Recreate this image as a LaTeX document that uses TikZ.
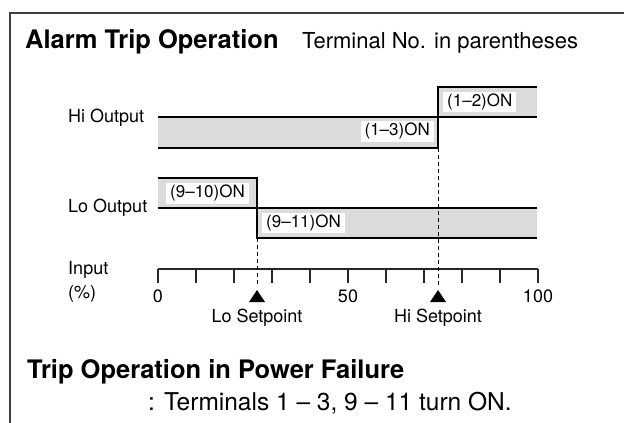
\documentclass[tikz,border=0pt]{standalone}
\usepackage{fontspec}
\setmainfont{TeX Gyre Heros}

\begin{document}
\begin{tikzpicture}[x=1pt,y=-1pt]
% estilos de linea y relleno
\tikzstyle{marco} = [black!75,line width=1.3pt]
\tikzstyle{banda} = [line width=1.2pt,black]
\tikzstyle{relleno} = [fill=black!14]
\tikzstyle{eje} = [line width=1.1pt,black!85]
\tikzstyle{trazos} = [line width=0.8pt,black,dash pattern=on 4pt off 3pt]
\tikzstyle{rotulo} = [fill=white,inner xsep=4pt,inner ysep=2.5pt,text height=12pt,text depth=3.5pt,font=\fontsize{17}{20}\selectfont]
\tikzstyle{escala} = [inner sep=0pt,font=\fontsize{18}{21}\selectfont]
\tikzstyle{negrita} = [inner sep=0pt,anchor=base west,font=\fontsize{25.5}{30}\selectfont\bfseries]
\useasboundingbox (0,0) rectangle (624,423);
% definicion marca del eje
% #1: abscisa de la marca
\newcommand{\marca}[1]{
\draw [eje] (#1,269) -- ++(0,14);
}
% definicion punto de consigna
% #1: abscisa del punto
% #2: ordenada del inicio de la linea de trazos
% #3: rotulo del punto
% #4: nombre del rotulo
\newcommand{\consigna}[4]{
\draw [trazos] (#1,#2) -- (#1,287);
\fill (#1,290) -- ++(-8,12) -- ++(16,0) -- cycle;
\node [escala] (#4) at (#1,318) {#3};
}
% dibujar marco
\draw [marco] (624,13) -- (10,13) -- (10,423);
% dibujar titulos
\node [negrita] (titulo) at (25,48) {Alarm Trip Operation};
\node [inner sep=0pt,anchor=base west,font=\fontsize{22}{26}\selectfont] (subtitulo) at (302,48) {Terminal No. in parentheses};
% dibujar salida hi
\fill [relleno] (158,117) rectangle (438,148);
\fill [relleno] (438,87) rectangle (537,117);
\draw [banda] (158,117) -- (537,117);
\draw [banda] (158,148) -- (438,148) -- (438,87) -- (537,87);
\node [escala,anchor=west] (hi) at (68,118) {Hi Output};
\node [rotulo,anchor=east] (hi13) at (434,131.5) {(1–3)ON};
\node [rotulo,anchor=west] (hi12) at (443,102) {(1–2)ON};
% dibujar salida lo
\fill [relleno] (158,178) rectangle (257,208);
\fill [relleno] (257,208) rectangle (537,238);
\draw [banda] (158,208) -- (537,208);
\draw [banda] (158,178) -- (257,178) -- (257,238) -- (537,238);
\node [escala,anchor=west] (lo) at (68,208) {Lo Output};
\node [rotulo,anchor=west] (lo910) at (166,193.5) {(9–10)ON};
\node [rotulo,anchor=west] (lo911) at (262,223) {(9–11)ON};
% dibujar eje de entrada
\draw [eje] (158,269) -- (538,269);
\marca{158} \marca{196} \marca{234} \marca{272} \marca{310} \marca{348}
\marca{386} \marca{424} \marca{462} \marca{500} \marca{538}
\node [escala,anchor=west] (entrada) at (68,270) {Input};
\node [escala,anchor=west] (pct) at (68,294) {(\%)};
\node [escala] (cero) at (158,296) {0};
\node [escala] (medio) at (348,296) {50};
\node [escala] (cien) at (538,296) {100};
% dibujar puntos de consigna
\consigna{257}{238}{Lo Setpoint}{loset}
\consigna{438}{148}{Hi Setpoint}{hiset}
% dibujar fallo de alimentacion
\node [negrita] (fallo) at (27,378) {Trip Operation in Power Failure};
\node [inner sep=0pt,anchor=base west,font=\fontsize{24.5}{29}\selectfont] (bornes) at (148,410) {: Terminals 1 – 3, 9 – 11 turn ON.};
\end{tikzpicture}
\end{document}
